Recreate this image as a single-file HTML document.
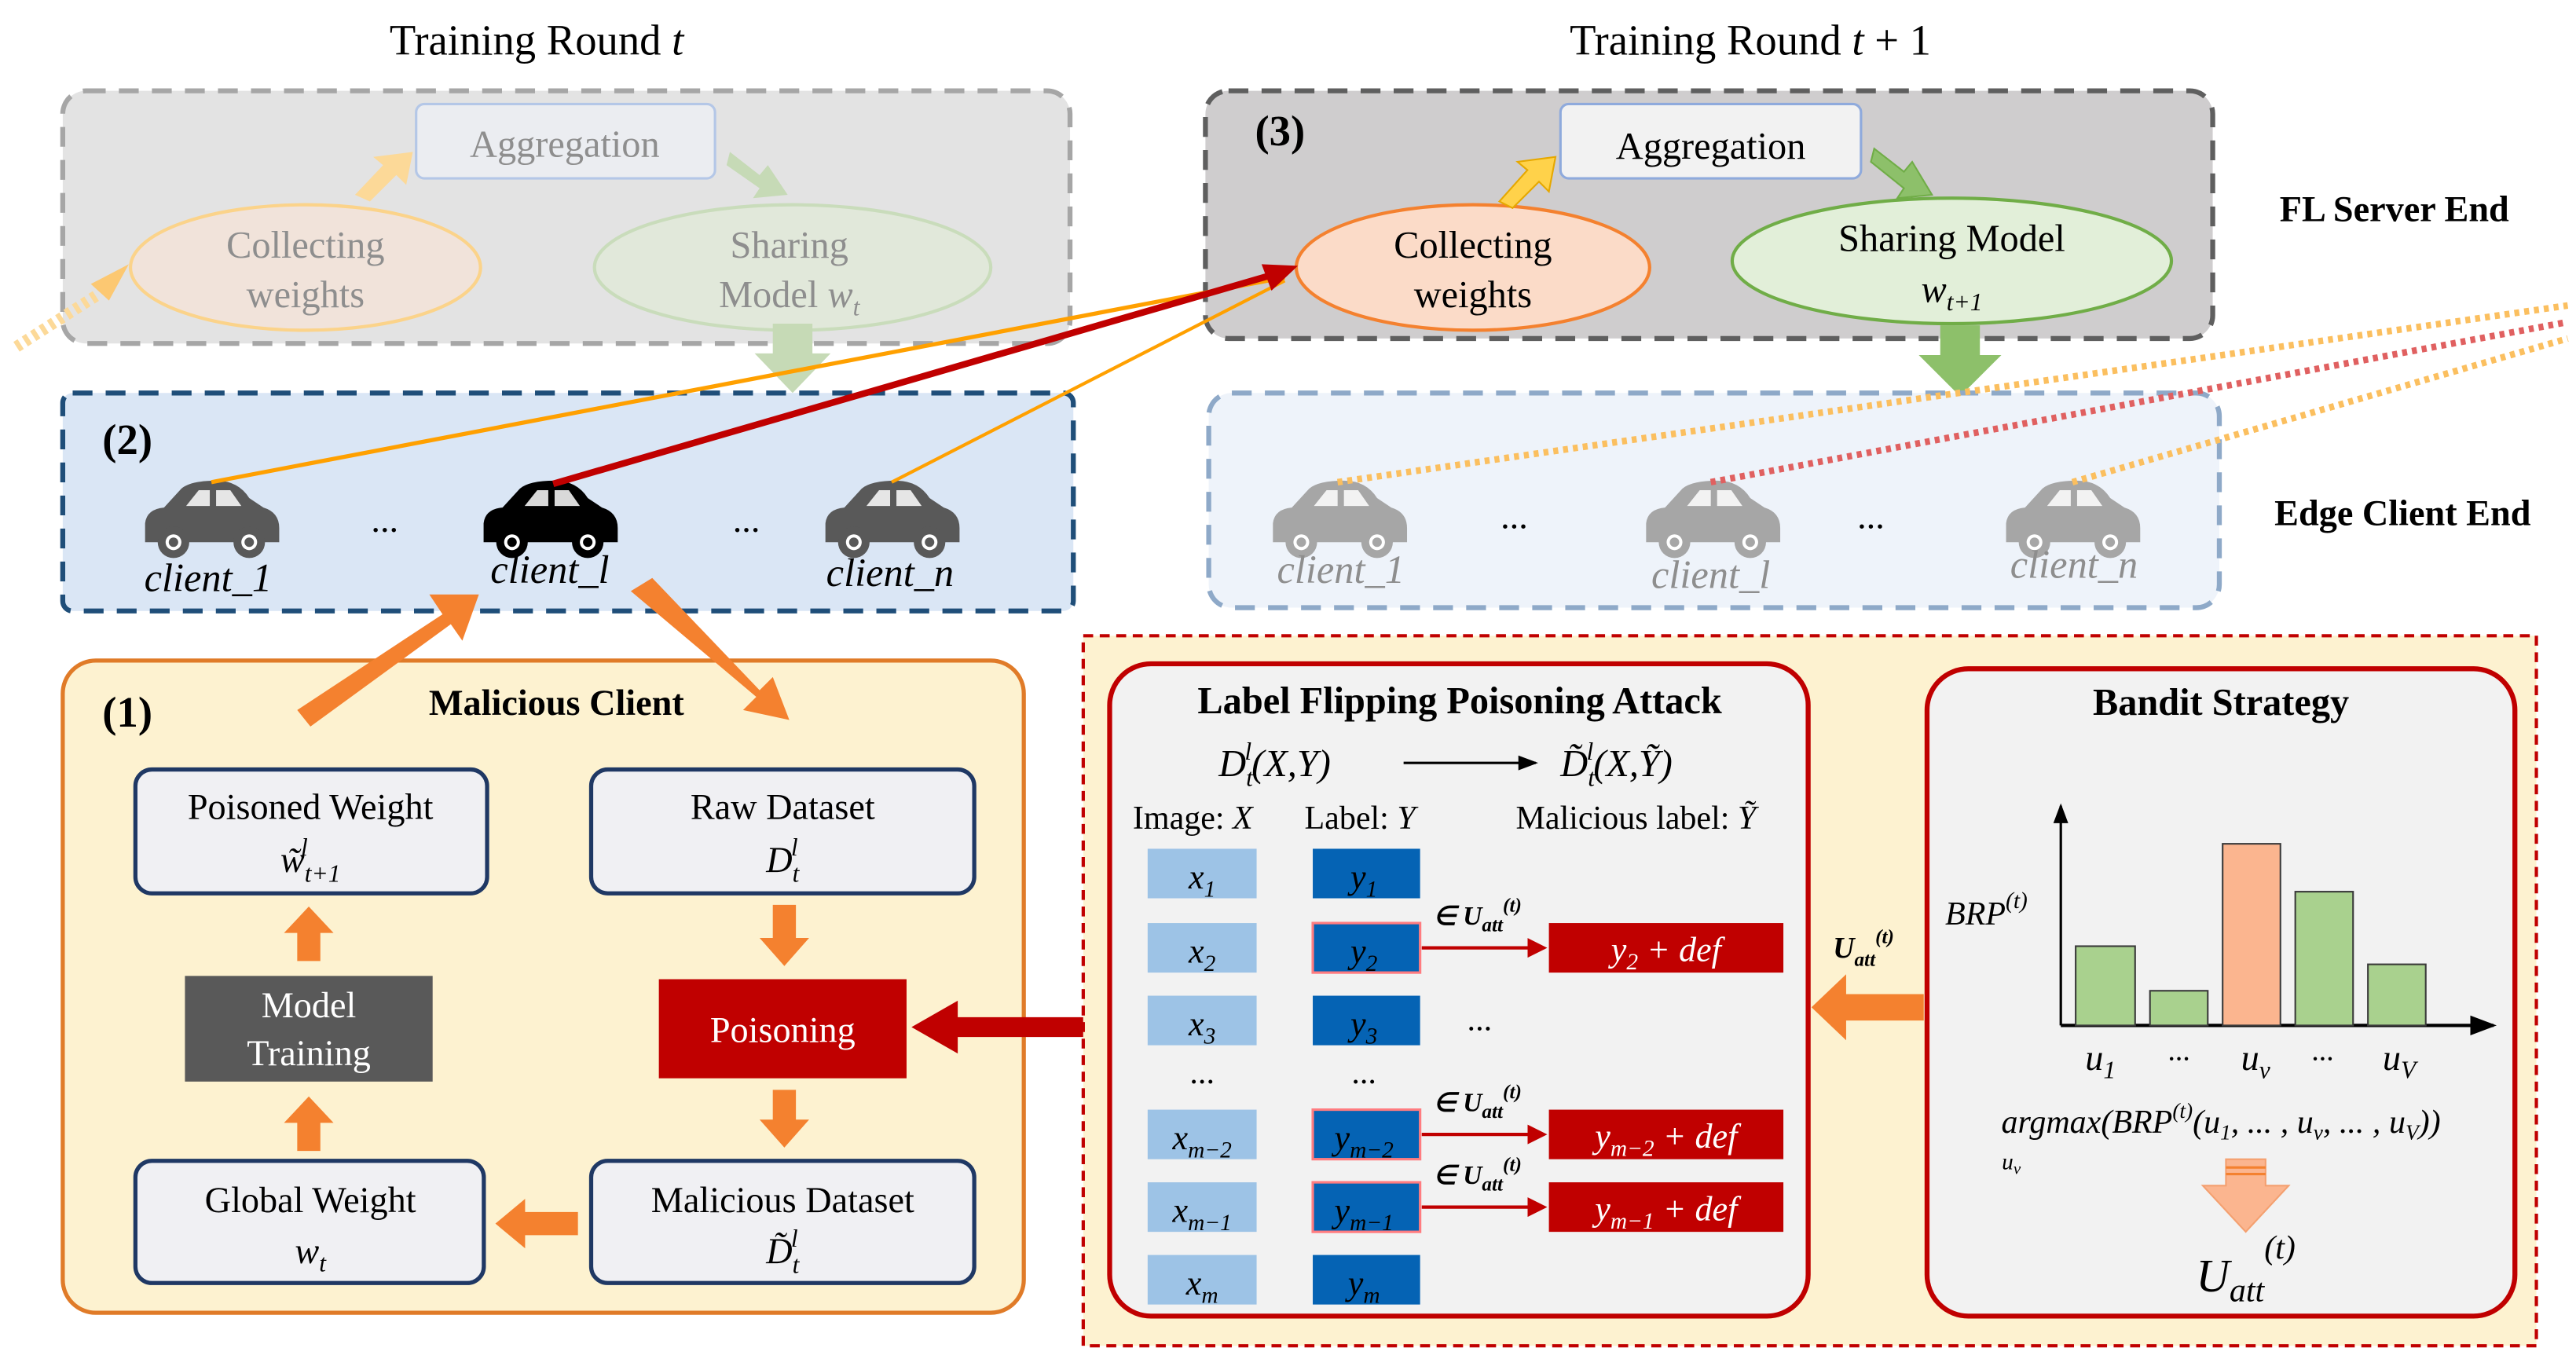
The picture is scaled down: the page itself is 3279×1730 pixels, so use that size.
<!DOCTYPE html>
<html><head><meta charset="utf-8"><style>
html,body{margin:0;padding:0;background:#fff}
svg{display:block}
text{font-family:"Liberation Serif",serif}
.it{font-style:italic}
</style></head><body>
<svg width="3279" height="1730" viewBox="0 0 1560 823" preserveAspectRatio="none" xmlns="http://www.w3.org/2000/svg">
<defs>
<symbol id="car" viewBox="-45 -28 90 56" overflow="visible">
<path d="M-42,14 L-42,2 Q-41,-7 -30,-8 L-19,-20 Q-13,-25 3,-25 Q17,-25 24,-14 L33,-8 Q43,-5 43,5 L43,14 Z"/>
<path d="M-16,-9 L-8,-19 L-1,-19 L-1,-9 Z M3,-9 L3,-19 L12,-19 L19,-9 Z" fill="#fff" opacity="0.85"/>
<circle cx="-24" cy="14" r="10"/><circle cx="24" cy="14" r="10"/>
<circle cx="-24" cy="14" r="5" fill="#fff"/><circle cx="24" cy="14" r="5" fill="#fff"/>
<circle cx="-24" cy="14" r="3"/><circle cx="24" cy="14" r="3"/>
</symbol>
<marker id="ar" markerWidth="6" markerHeight="6" refX="5" refY="3" orient="auto"><path d="M0,0 L6,3 L0,6 Z" fill="#c00000"/></marker>
<marker id="ak" markerWidth="8" markerHeight="8" refX="7" refY="4" orient="auto"><path d="M0,1 L8,4 L0,7 Z" fill="#000"/></marker>
</defs>

<text x="325" y="33" font-size="26" text-anchor="middle">Training Round <tspan class="it">t</tspan></text>
<text x="1060" y="33" font-size="26" text-anchor="middle">Training Round <tspan class="it">t</tspan> + 1</text>

<!-- left server faded -->
<rect x="38" y="55" width="610" height="153" rx="14" fill="#e3e3e3" stroke="#a6a6a6" stroke-width="3" stroke-dasharray="12,8"/>
<rect x="252" y="63" width="181" height="45" rx="5" fill="#ebedf1" stroke="#b4c7e7" stroke-width="1.5"/>
<text x="342" y="95" font-size="23" text-anchor="middle" fill="#8e8e8e">Aggregation</text>
<ellipse cx="185" cy="162" rx="106" ry="38" fill="#f1e3da" stroke="#fbd38a" stroke-width="2"/>
<text x="185" y="156" font-size="23" text-anchor="middle" fill="#8e8e8e">Collecting</text>
<text x="185" y="186" font-size="23" text-anchor="middle" fill="#8e8e8e">weights</text>
<ellipse cx="480" cy="162" rx="120" ry="38" fill="#e1e8da" stroke="#c9dcbb" stroke-width="2"/>
<text x="478" y="156" font-size="23" text-anchor="middle" fill="#8e8e8e">Sharing</text>
<text x="478" y="186" font-size="23" text-anchor="middle" fill="#8e8e8e">Model <tspan class="it">w</tspan><tspan class="it" font-size="15" dy="5">t</tspan></text>
<path d="M215,118 L232,100 L226,95 L250,92 L246,112 L240,106 L224,122 Z" fill="#fcd998"/>
<path d="M442,92 L460,106 L465,100 L477,118 L456,120 L460,114 L440,100 Z" fill="#c6dab6"/>
<path d="M468,196 L492,196 L492,214 L503,214 L480,238 L457,214 L468,214 Z" fill="#c6dab6"/>
<path d="M10,210 L60,178" stroke="#fcd998" stroke-width="7" stroke-dasharray="3,3"/>
<path d="M55,172 L78,160 L66,182 Z" fill="#fcc872"/>

<!-- right server -->
<rect x="730" y="55" width="610" height="150" rx="14" fill="#cfcdce" stroke="#5f5f5f" stroke-width="3" stroke-dasharray="12,8"/>
<text x="760" y="88" font-size="26" font-weight="bold">(3)</text>
<rect x="945" y="63" width="182" height="45" rx="5" fill="#f2f2f2" stroke="#8faadc" stroke-width="1.5"/>
<text x="1036" y="96" font-size="23" text-anchor="middle">Aggregation</text>
<ellipse cx="892" cy="162" rx="107" ry="38" fill="#fbdbc8" stroke="#f4812f" stroke-width="2"/>
<text x="892" y="156" font-size="23" text-anchor="middle">Collecting</text>
<text x="892" y="186" font-size="23" text-anchor="middle">weights</text>
<ellipse cx="1182" cy="158" rx="133" ry="38" fill="#e2efd9" stroke="#70ad47" stroke-width="2"/>
<text x="1182" y="152" font-size="23" text-anchor="middle">Sharing  Model</text>
<text x="1182" y="183" font-size="23" text-anchor="middle" class="it">w<tspan font-size="15" dy="5">t+1</tspan></text>
<path d="M908,122 L925,103 L919,98 L942,95 L938,116 L932,110 L916,126 Z" fill="#ffd24a" stroke="#e6a800"/>
<path d="M1135,90 L1153,104 L1158,98 L1170,118 L1149,120 L1153,114 L1133,98 Z" fill="#8dc06a" stroke="#70ad47"/>
<path d="M1175,197 L1199,197 L1199,215 L1212,215 L1187,240 L1162,215 L1175,215 Z" fill="#8dc06a"/>
<text x="1450" y="134" font-size="22" font-weight="bold" text-anchor="middle">FL Server End</text>

<!-- left edge -->
<rect x="38" y="238" width="612" height="132" rx="6" fill="#dae6f5" stroke="#1f4e79" stroke-width="3" stroke-dasharray="12,8"/>
<text x="62" y="275" font-size="26" font-weight="bold">(2)</text>
<use href="#car" x="85" y="288" width="86" height="54" fill="#595959"/>
<use href="#car" x="290" y="288" width="86" height="54" fill="#000"/>
<use href="#car" x="497" y="288" width="86" height="54" fill="#595959"/>
<text x="233" y="322" font-size="22" text-anchor="middle">...</text>
<text x="452" y="322" font-size="22" text-anchor="middle">...</text>
<text x="126" y="358" font-size="24" class="it" text-anchor="middle">client_1</text>
<text x="333" y="353" font-size="24" class="it" text-anchor="middle">client_l</text>
<text x="539" y="355" font-size="24" class="it" text-anchor="middle">client_n</text>

<!-- right edge -->
<rect x="732" y="238" width="612" height="130" rx="14" fill="#eef3fa" stroke="#8ea9c8" stroke-width="3" stroke-dasharray="12,8"/>
<use href="#car" x="768" y="288" width="86" height="54" fill="#a6a6a6"/>
<use href="#car" x="994" y="288" width="86" height="54" fill="#a6a6a6"/>
<use href="#car" x="1212" y="288" width="86" height="54" fill="#a6a6a6"/>
<text x="917" y="320" font-size="22" text-anchor="middle">...</text>
<text x="1133" y="320" font-size="22" text-anchor="middle">...</text>
<text x="812" y="353" font-size="24" class="it" text-anchor="middle" fill="#8e8e8e">client_1</text>
<text x="1036" y="356" font-size="24" class="it" text-anchor="middle" fill="#8e8e8e">client_l</text>
<text x="1256" y="350" font-size="24" class="it" text-anchor="middle" fill="#8e8e8e">client_n</text>
<text x="1455" y="318" font-size="22" font-weight="bold" text-anchor="middle">Edge Client  End</text>
<path d="M810,292 L1555,185" stroke="#fbbf5f" stroke-width="4" stroke-dasharray="3,3"/>
<path d="M1036,292 L1555,195" stroke="#e06060" stroke-width="4" stroke-dasharray="3,3"/>
<path d="M1255,292 L1555,205" stroke="#fbbf5f" stroke-width="4" stroke-dasharray="3,3"/>

<!-- connectors -->
<path d="M128,292 L778,168" stroke="#ffa000" stroke-width="2.5"/>
<path d="M540,292 L778,170" stroke="#ffa000" stroke-width="2"/>
<path d="M335,293 L772,166" stroke="#c00000" stroke-width="4"/>
<path d="M764,160 L786,161 L770,176 Z" fill="#c00000"/>

<!-- malicious client -->
<rect x="38" y="400" width="582" height="395" rx="20" fill="#fdf2d0" stroke="#e07b28" stroke-width="2.5"/>
<text x="62" y="440" font-size="26" font-weight="bold">(1)</text>
<text x="337" y="433" font-size="22" font-weight="bold" text-anchor="middle">Malicious  Client</text>
<path d="M180,430 L268,372 L260,360 L290,360 L280,388 L273,378 L188,440 Z" fill="#f4812f"/>
<path d="M382,358 L395,350 L460,418 L468,410 L478,436 L450,430 L458,422 Z" fill="#f4812f"/>
<g font-size="22" text-anchor="middle">
<rect x="82" y="466" width="213" height="75" rx="10" fill="#f0f0f3" stroke="#1f3864" stroke-width="2.5"/>
<text x="188" y="496">Poisoned Weight</text>
<text x="188" y="528" class="it">w̃<tspan font-size="15" dy="6">t+1</tspan><tspan font-size="15" dx="-24" dy="-16">l</tspan></text>
<rect x="358" y="466" width="232" height="75" rx="10" fill="#f0f0f3" stroke="#1f3864" stroke-width="2.5"/>
<text x="474" y="496">Raw Dataset</text>
<text x="474" y="528" class="it">D<tspan font-size="15" dy="6">t</tspan><tspan font-size="15" dx="-5" dy="-16">l</tspan></text>
<rect x="112" y="591" width="150" height="64" fill="#595959"/>
<text x="187" y="616" fill="#fff">Model</text>
<text x="187" y="645" fill="#fff">Training</text>
<rect x="399" y="593" width="150" height="60" fill="#c00000"/>
<text x="474" y="631" fill="#fff">Poisoning</text>
<rect x="82" y="703" width="211" height="74" rx="10" fill="#f0f0f3" stroke="#1f3864" stroke-width="2.5"/>
<text x="188" y="734">Global Weight</text>
<text x="188" y="765" class="it">w<tspan font-size="15" dy="5">t</tspan></text>
<rect x="358" y="703" width="232" height="74" rx="10" fill="#f0f0f3" stroke="#1f3864" stroke-width="2.5"/>
<text x="474" y="734">Malicious Dataset</text>
<text x="474" y="765" class="it">D̃<tspan font-size="15" dy="6">t</tspan><tspan font-size="15" dx="-5" dy="-16">l</tspan></text>
</g>
<g fill="#f4812f">
<path d="M180,582 L194,582 L194,565 L202,565 L187,549 L172,565 L180,565 Z"/>
<path d="M180,697 L194,697 L194,680 L202,680 L187,664 L172,680 L180,680 Z"/>
<path d="M468,548 L482,548 L482,568 L490,568 L475,585 L460,568 L468,568 Z"/>
<path d="M468,660 L482,660 L482,678 L490,678 L475,695 L460,678 L468,678 Z"/>
<path d="M350,734 L350,748 L318,748 L318,756 L300,741 L318,726 L318,734 Z"/>
</g>
<path d="M656,616 L656,628 L580,628 L580,638 L552,622 L580,606 L580,616 Z" fill="#c00000"/>

<!-- red dashed -->
<rect x="656" y="385" width="880" height="430" fill="#fdf2d0" stroke="#c00000" stroke-width="2" stroke-dasharray="6,4"/>
<rect x="672" y="402" width="423" height="395" rx="25" fill="#f2f2f2" stroke="#c00000" stroke-width="3"/>
<rect x="1167" y="405" width="356" height="392" rx="25" fill="#f2f2f2" stroke="#c00000" stroke-width="3"/>
<path d="M1165,602 L1165,618 L1118,618 L1118,630 L1097,610 L1118,590 L1118,602 Z" fill="#f4812f"/>
<text x="1110" y="580" font-size="18" class="it" font-weight="bold">U<tspan font-size="12" dy="5">att</tspan><tspan font-size="12" dy="-14">(t)</tspan></text>

<text x="884" y="432" font-size="23" font-weight="bold" text-anchor="middle">Label Flipping  Poisoning Attack</text>
<text x="738" y="470" font-size="23" class="it">D<tspan font-size="15" dy="6">t</tspan><tspan font-size="15" dx="-5" dy="-16">l</tspan><tspan dy="10">(X,Y)</tspan></text>
<path d="M850,462 L930,462" stroke="#000" stroke-width="1.5" marker-end="url(#ak)"/>
<text x="945" y="470" font-size="23" class="it">D̃<tspan font-size="15" dy="6">t</tspan><tspan font-size="15" dx="-5" dy="-16">l</tspan><tspan dy="10">(X,Ỹ)</tspan></text>
<text x="686" y="502" font-size="20">Image: <tspan class="it">X</tspan></text>
<text x="790" y="502" font-size="20">Label: <tspan class="it">Y</tspan></text>
<text x="918" y="502" font-size="20">Malicious label: <tspan class="it">Ỹ</tspan></text>
<g font-size="21" class="it" text-anchor="middle">
<rect x="695" y="514" width="66" height="30" fill="#9dc3e6"/><text x="728" y="538">x<tspan font-size="14" dy="5">1</tspan></text>
<rect x="695" y="559" width="66" height="30" fill="#9dc3e6"/><text x="728" y="583">x<tspan font-size="14" dy="5">2</tspan></text>
<rect x="695" y="603" width="66" height="30" fill="#9dc3e6"/><text x="728" y="627">x<tspan font-size="14" dy="5">3</tspan></text>
<rect x="695" y="672" width="66" height="30" fill="#9dc3e6"/><text x="728" y="696">x<tspan font-size="14" dy="5">m−2</tspan></text>
<rect x="695" y="716" width="66" height="30" fill="#9dc3e6"/><text x="728" y="740">x<tspan font-size="14" dy="5">m−1</tspan></text>
<rect x="695" y="760" width="66" height="30" fill="#9dc3e6"/><text x="728" y="784">x<tspan font-size="14" dy="5">m</tspan></text>
<g fill="#000">
<rect x="795" y="514" width="65" height="30" fill="#0563b4"/><text x="826" y="538">y<tspan font-size="14" dy="5">1</tspan></text>
<rect x="795" y="559" width="65" height="30" fill="#0563b4" stroke="#ff7c80" stroke-width="1.5"/><text x="826" y="583">y<tspan font-size="14" dy="5">2</tspan></text>
<rect x="795" y="603" width="65" height="30" fill="#0563b4"/><text x="826" y="627">y<tspan font-size="14" dy="5">3</tspan></text>
<rect x="795" y="672" width="65" height="30" fill="#0563b4" stroke="#ff7c80" stroke-width="1.5"/><text x="826" y="696">y<tspan font-size="14" dy="5">m−2</tspan></text>
<rect x="795" y="716" width="65" height="30" fill="#0563b4" stroke="#ff7c80" stroke-width="1.5"/><text x="826" y="740">y<tspan font-size="14" dy="5">m−1</tspan></text>
<rect x="795" y="760" width="65" height="30" fill="#0563b4"/><text x="826" y="784">y<tspan font-size="14" dy="5">m</tspan></text>
</g>
<g fill="#fff">
<rect x="938" y="559" width="142" height="30" fill="#c00000"/><text x="1009" y="582">y<tspan font-size="14" dy="5">2</tspan><tspan dy="-5"> + def</tspan></text>
<rect x="938" y="672" width="142" height="30" fill="#c00000"/><text x="1009" y="695">y<tspan font-size="14" dy="5">m−2</tspan><tspan dy="-5"> + def</tspan></text>
<rect x="938" y="716" width="142" height="30" fill="#c00000"/><text x="1009" y="739">y<tspan font-size="14" dy="5">m−1</tspan><tspan dy="-5"> + def</tspan></text>
</g>
</g>
<text x="728" y="656" font-size="20" text-anchor="middle">...</text>
<text x="826" y="656" font-size="20" text-anchor="middle">...</text>
<text x="896" y="624" font-size="20" text-anchor="middle">...</text>
<g stroke="#c00000" stroke-width="2">
<path d="M861,574 L935,574" marker-end="url(#ar)"/>
<path d="M861,687 L935,687" marker-end="url(#ar)"/>
<path d="M861,731 L935,731" marker-end="url(#ar)"/>
</g>
<g font-size="16" class="it" font-weight="bold">
<text x="868" y="560">∈ U<tspan font-size="12" dy="4">att</tspan><tspan font-size="12" dy="-12">(t)</tspan></text>
<text x="868" y="673">∈ U<tspan font-size="12" dy="4">att</tspan><tspan font-size="12" dy="-12">(t)</tspan></text>
<text x="868" y="717">∈ U<tspan font-size="12" dy="4">att</tspan><tspan font-size="12" dy="-12">(t)</tspan></text>
</g>

<!-- bandit -->
<text x="1345" y="433" font-size="23" font-weight="bold" text-anchor="middle">Bandit Strategy</text>
<path d="M1248,621 L1248,488" stroke="#000" stroke-width="1.5" marker-end="url(#ak)"/>
<path d="M1248,621 L1510,621" stroke="#000" stroke-width="2" marker-end="url(#ak)"/>
<g stroke="#3a3a3a" stroke-width="1">
<rect x="1257" y="573" width="36" height="48" fill="#a9d18e"/>
<rect x="1302" y="600" width="35" height="21" fill="#a9d18e"/>
<rect x="1346" y="511" width="35" height="110" fill="#fbb58f"/>
<rect x="1390" y="540" width="35" height="81" fill="#a9d18e"/>
<rect x="1434" y="584" width="35" height="37" fill="#a9d18e"/>
</g>
<text x="1178" y="560" font-size="20" class="it">BRP<tspan font-size="14" dy="-10">(t)</tspan></text>
<g font-size="22" class="it" text-anchor="middle">
<text x="1272" y="648">u<tspan font-size="15" dy="5">1</tspan></text>
<text x="1320" y="642" font-size="18">...</text>
<text x="1366" y="648">u<tspan font-size="15" dy="5">v</tspan></text>
<text x="1407" y="642" font-size="18">...</text>
<text x="1453" y="648">u<tspan font-size="15" dy="5">V</tspan></text>
</g>
<text x="1345" y="686" font-size="20" class="it" text-anchor="middle">argmax(BRP<tspan font-size="13" dy="-9">(t)</tspan><tspan dy="9">(u</tspan><tspan font-size="13" dy="4">1</tspan><tspan dy="-4">, ... , u</tspan><tspan font-size="13" dy="4">v</tspan><tspan dy="-4">, ... , u</tspan><tspan font-size="13" dy="4">V</tspan><tspan dy="-4">))</tspan></text>
<text x="1218" y="708" font-size="14" class="it" text-anchor="middle">u<tspan font-size="10" dy="3">v</tspan></text>
<path d="M1348,702 L1372,702 L1372,718 L1386,718 L1360,746 L1334,718 L1348,718 Z" fill="#fbb58f" stroke="#f4a070"/>
<path d="M1348,707 L1372,707 M1348,711 L1372,711" stroke="#f4812f" stroke-width="1.5"/>
<text x="1360" y="782" font-size="28" class="it" text-anchor="middle">U<tspan font-size="20" dy="6">att</tspan><tspan font-size="20" dy="-26">(t)</tspan></text>
</svg>
</body></html>
